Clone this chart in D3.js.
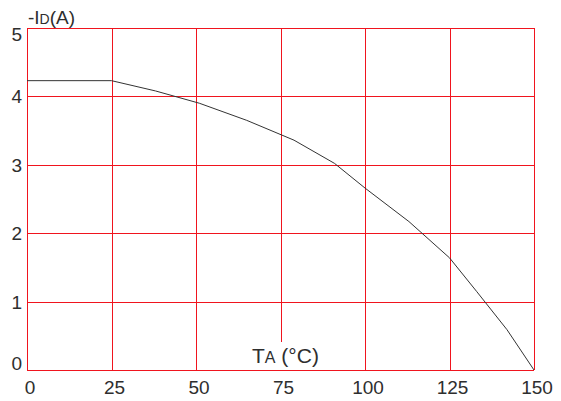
<!DOCTYPE html>
<html><head><meta charset="utf-8">
<script src="https://cdn.jsdelivr.net/npm/d3@7"></script>
<style>body{margin:0;background:#fff}svg{display:block}text{font-family:"Liberation Sans",Arial,sans-serif;fill:#2e2e2e}</style>
</head><body>
<script>
const xTicks=[0,25,50,75,100,125,150];
const yTicks=[0,1,2,3,4,5];
const tempC=[0,25,38,51,65,79,91,100,113,125,133,142,150];
const currentA=[4.23,4.23,4.08,3.9,3.65,3.36,3.02,2.66,2.17,1.64,1.15,0.59,0];

const W=561,H=401;
const svg=d3.select("body").append("svg").attr("width",W).attr("height",H);
const x=d3.scaleLinear().domain([0,150]).range([27,534]);
const y=d3.scaleLinear().domain([0,5]).range([370,28]);
const red="#f0141e";
const g=svg.append("g");
g.selectAll("line.v").data(xTicks).join("line").attr("class","v")
 .attr("x1",d=>Math.round(x(d))+0.5).attr("x2",d=>Math.round(x(d))+0.5)
 .attr("y1",y(5)).attr("y2",y(0)).attr("stroke",red).attr("stroke-width",1);
g.selectAll("line.h").data(yTicks).join("line").attr("class","h")
 .attr("y1",d=>Math.round(y(d))+0.5).attr("y2",d=>Math.round(y(d))+0.5)
 .attr("x1",x(0)).attr("x2",x(150)).attr("stroke",red).attr("stroke-width",1);

// axis title box for T_A
const tl=svg.append("g");
tl.append("rect").attr("x",246).attr("y",342).attr("width",74).attr("height",Math.round(y(0))-342).attr("fill","#fff");
const tt=tl.append("text").attr("x",252).attr("y",363).attr("font-size",21);
tt.append("tspan").text("T");
tt.append("tspan").attr("font-size",16).text("A");
tt.append("tspan").text(" (°C)");

// curve
const line=d3.line().x((d,i)=>x(tempC[i])).y((d,i)=>y(currentA[i]));
svg.append("path").datum(currentA).attr("d",line).attr("fill","none").attr("stroke","#333").attr("stroke-width",1);

// y tick labels
svg.selectAll("text.yl").data(yTicks).join("text").attr("class","yl")
 .attr("x",22).attr("text-anchor","end").attr("font-size",19)
 .attr("y",d=> d===0? y(0) : d===5? y(5)+13 : y(d)+7).text(d=>d);
// x tick labels
svg.selectAll("text.xl").data(xTicks).join("text").attr("class","xl")
 .attr("x",d=>x(d)+3).attr("text-anchor","middle").attr("font-size",19)
 .attr("y",394).text(d=>d);

// y title
const yt=svg.append("text").attr("x",28).attr("y",24).attr("font-size",19);
yt.append("tspan").text("-I");
yt.append("tspan").attr("font-size",14).text("D");
yt.append("tspan").text("(A)");
</script>
</body></html>
